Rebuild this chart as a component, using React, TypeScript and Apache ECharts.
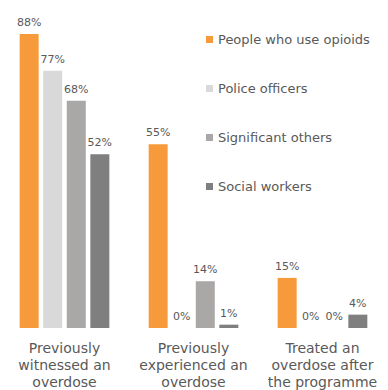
import React, { useEffect, useRef } from "react";
import * as echarts from "echarts";

const categories = [
  "Previously\nwitnessed an\noverdose",
  "Previously\nexperienced an\noverdose",
  "Treated an\noverdose after\nthe programme",
];
const seriesNames = ["People who use opioids", "Police officers", "Significant others", "Social workers"];
const opioidUsers = [88, 55, 15];
const policeOfficers = [77, 0, 0];
const significantOthers = [68, 14, 0];
const socialWorkers = [52, 1, 4];
const colors = ["#F79A3B", "#D9D9D9", "#AAA7A7", "#7F7F7F"];

export default function App() {
  const ref = useRef<HTMLDivElement>(null);
  useEffect(() => {
    if (!ref.current) return;
    const chart = echarts.init(ref.current, null, { renderer: "svg" });
    const data = [opioidUsers, policeOfficers, significantOthers, socialWorkers];
    chart.setOption({
      animation: false,
      textStyle: { fontFamily: "DejaVu Sans" },
      grid: { left: -2, right: 1, top: 34, bottom: 62, containLabel: false },
      legend: {
        orient: "vertical",
        left: 206,
        top: 33,
        padding: 0,
        itemWidth: 7,
        itemHeight: 7,
        itemGap: 36,
        itemStyle: { borderWidth: 0 },
        icon: "rect",
        textStyle: { color: "#595959", fontSize: 13, fontFamily: "DejaVu Sans" },
        data: seriesNames,
      },
      xAxis: {
        type: "category",
        data: categories,
        axisLine: { show: false },
        axisTick: { show: false },
        axisLabel: {
          color: "#595959",
          fontSize: 14,
          lineHeight: 17,
          margin: 11,
          interval: 0,
          fontFamily: "DejaVu Sans",
        },
      },
      yAxis: { type: "value", min: 0, max: 88, show: false, splitLine: { show: false } },
      series: seriesNames.map((name, i) => ({
        name,
        type: "bar",
        data: data[i],
        barWidth: 19,
        barGap: "24%",
        itemStyle: { color: colors[i] },
        label: {
          show: true,
          position: "top",
          distance: 6,
          formatter: "{c}%",
          color: "#595959",
          fontSize: 11,
          fontFamily: "DejaVu Sans",
        },
      })),
    });
    return () => chart.dispose();
  }, []);
  return <div ref={ref} style={{ position: "absolute", left: 0, top: 0, width: 388, height: 390 }} />;
}
